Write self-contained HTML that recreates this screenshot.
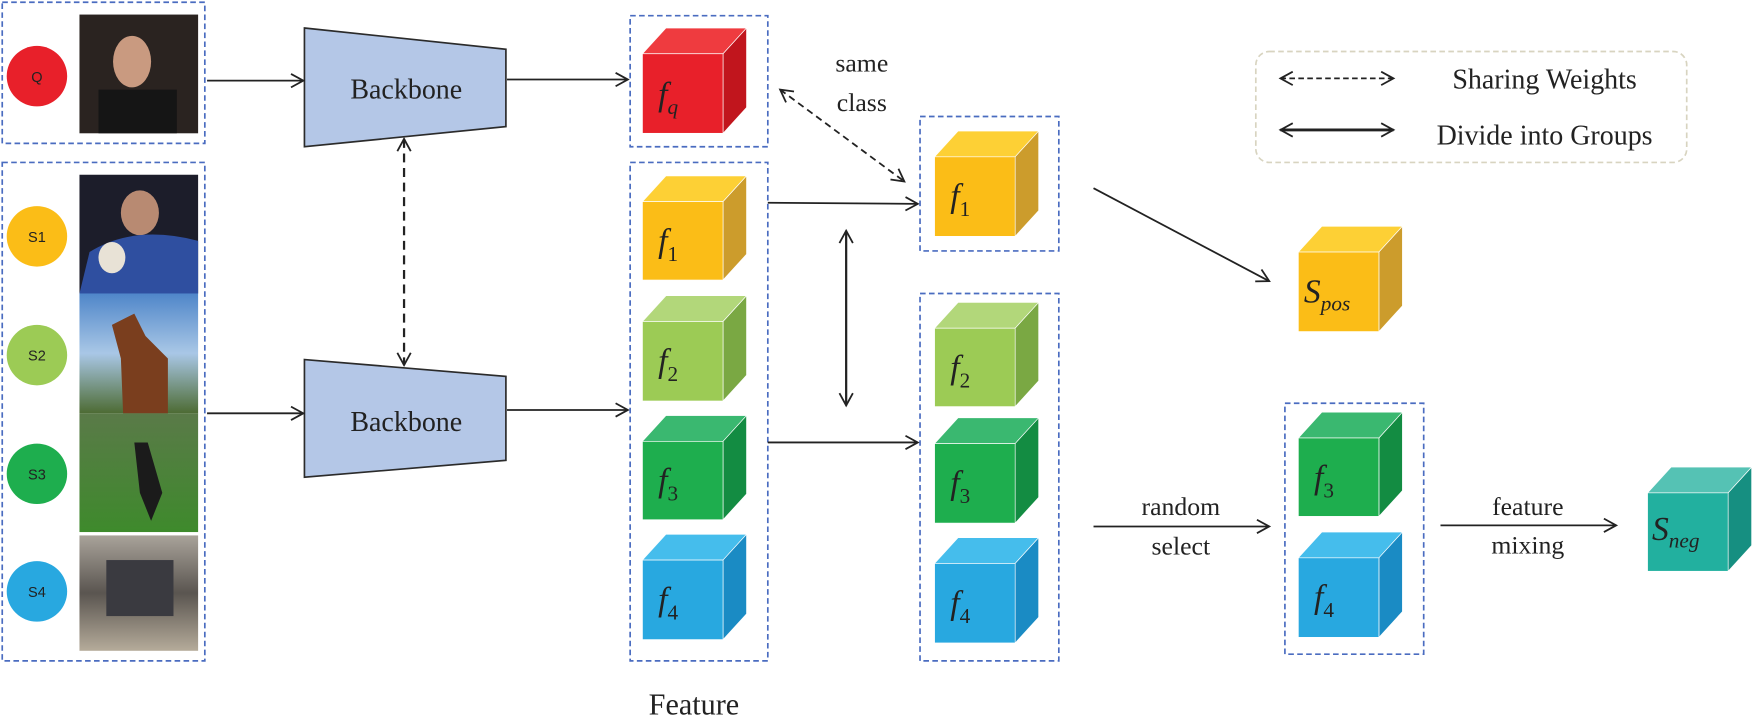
<!DOCTYPE html>
<html><head><meta charset="utf-8"><style>
html,body{margin:0;padding:0;background:#fff;}
svg{display:block;}
text{font-family:"Liberation Serif",serif;}
</style></head><body>
<svg width="1755" height="718" viewBox="0 0 1568 641" preserveAspectRatio="none" xmlns="http://www.w3.org/2000/svg">
<defs>
<marker id="ah" markerWidth="14" markerHeight="14" refX="12" refY="7" orient="auto-start-reverse" markerUnits="userSpaceOnUse">
<path d="M1,1 L12,7 L1,13" fill="none" stroke="#222" stroke-width="1.6"/>
</marker>
<linearGradient id="sky" x1="0" y1="0" x2="0" y2="1"><stop offset="0" stop-color="#4f86c9"/><stop offset="0.5" stop-color="#a9c7e6"/><stop offset="1" stop-color="#4d6b33"/></linearGradient>
<linearGradient id="grn" x1="0" y1="0" x2="0" y2="1"><stop offset="0" stop-color="#5a7a48"/><stop offset="1" stop-color="#3e8a2c"/></linearGradient>
<linearGradient id="car" x1="0" y1="0" x2="0" y2="1"><stop offset="0" stop-color="#a9a39a"/><stop offset="0.5" stop-color="#5a5550"/><stop offset="1" stop-color="#b5ab9a"/></linearGradient>
</defs>
<g fill="none" stroke="#4a6cc0" stroke-width="1.5" stroke-dasharray="5,3">
<rect x="2" y="2" width="181" height="126"/>
<rect x="2" y="145" width="181" height="445"/>
<rect x="563" y="14" width="123" height="117"/>
<rect x="563" y="145" width="123" height="445"/>
<rect x="822" y="104" width="124" height="120"/>
<rect x="822" y="262" width="124" height="328"/>
<rect x="1148" y="360" width="124" height="224"/>
</g>
<g font-size="13" text-anchor="middle">
<circle cx="33" cy="68" r="27" fill="#e8202a"/><text x="33" y="73" fill="#222" style="font-family:'Liberation Sans',sans-serif">Q</text>
<circle cx="33" cy="211" r="27" fill="#fbbd17"/><text x="33" y="216" fill="#222" style="font-family:'Liberation Sans',sans-serif">S1</text>
<circle cx="33" cy="317" r="27" fill="#9ccb55"/><text x="33" y="322" fill="#222" style="font-family:'Liberation Sans',sans-serif">S2</text>
<circle cx="33" cy="423" r="27" fill="#1eae4e"/><text x="33" y="428" fill="#222" style="font-family:'Liberation Sans',sans-serif">S3</text>
<circle cx="33" cy="528" r="27" fill="#28a8e0"/><text x="33" y="533" fill="#222" style="font-family:'Liberation Sans',sans-serif">S4</text>
</g>
<rect x="71" y="13" width="106" height="106" fill="#2a2320"/>
<ellipse cx="118" cy="55" rx="17" ry="23" fill="#c99a80"/>
<rect x="88" y="80" width="70" height="39" fill="#151515"/>
<rect x="71" y="156" width="106" height="106" fill="#1c1d2a"/>
<ellipse cx="125" cy="190" rx="17" ry="20" fill="#b88a72"/>
<path d="M71,262 L80,225 Q120,200 177,215 L177,262Z" fill="#2f4fa0"/>
<ellipse cx="100" cy="230" rx="12" ry="14" fill="#e8e2d6"/>
<rect x="71" y="262" width="106" height="107" fill="url(#sky)"/>
<path d="M100,290 L120,280 L130,300 L150,320 L150,369 L110,369 L108,320Z" fill="#7a3e1e"/>
<rect x="71" y="369" width="106" height="106" fill="url(#grn)"/>
<path d="M120,395 L132,395 L145,440 L135,465 L125,440Z" fill="#1b1b1b"/>
<rect x="71" y="478" width="106" height="103" fill="url(#car)"/>
<rect x="95" y="500" width="60" height="50" fill="#3a3a40"/>
<polygon points="272,25 452,44 452,113 272,131" fill="#b4c7e7" stroke="#2b2b2b" stroke-width="1.5"/>
<polygon points="272,321 452,336 452,411 272,426" fill="#b4c7e7" stroke="#2b2b2b" stroke-width="1.5"/>
<text x="363" y="88" font-size="25" text-anchor="middle" fill="#222">Backbone</text>
<text x="363" y="385" font-size="25" text-anchor="middle" fill="#222">Backbone</text>
<g stroke="#222" stroke-width="1.6" fill="none">
<line x1="185" y1="72" x2="271" y2="72" marker-end="url(#ah)"/>
<line x1="453" y1="71" x2="561" y2="71" marker-end="url(#ah)"/>
<line x1="185" y1="369" x2="271" y2="369" marker-end="url(#ah)"/>
<line x1="453" y1="366" x2="561" y2="366" marker-end="url(#ah)"/>
<line x1="361" y1="124" x2="361" y2="326" stroke-dasharray="8,5" stroke-width="2" marker-start="url(#ah)" marker-end="url(#ah)"/>
<line x1="686" y1="181" x2="820" y2="182" marker-end="url(#ah)"/>
<line x1="686" y1="395" x2="820" y2="395" marker-end="url(#ah)"/>
<line x1="756" y1="206" x2="756" y2="362" stroke-width="2" marker-start="url(#ah)" marker-end="url(#ah)"/>
<line x1="697" y1="80" x2="808" y2="162" stroke-dasharray="6,4" marker-start="url(#ah)" marker-end="url(#ah)"/>
<line x1="977" y1="168" x2="1134" y2="251" marker-end="url(#ah)"/>
<line x1="977" y1="470" x2="1134" y2="470" marker-end="url(#ah)"/>
<line x1="1287" y1="469" x2="1444" y2="469" marker-end="url(#ah)"/>
<line x1="1144" y1="70" x2="1245" y2="70" stroke-dasharray="5,3" marker-start="url(#ah)" marker-end="url(#ah)"/>
<line x1="1144" y1="116" x2="1245" y2="116" stroke-width="2.5" marker-start="url(#ah)" marker-end="url(#ah)"/>
</g>
<rect x="1122" y="46" width="385" height="99" rx="12" fill="none" stroke="#d8d4c0" stroke-width="1.5" stroke-dasharray="5,3"/>
<g font-size="23" fill="#222" text-anchor="middle">
<text x="1380" y="79" font-size="25">Sharing Weights</text>
<text x="1380" y="129" font-size="25">Divide into Groups</text>
<text x="770" y="64">same</text>
<text x="770" y="99">class</text>
<text x="1055" y="460">random</text>
<text x="1055" y="495">select</text>
<text x="1365" y="460">feature</text>
<text x="1365" y="494">mixing</text>
<text x="620" y="638" font-size="27">Feature</text>
</g>
<g stroke="#fff" stroke-width="0.6">
<polygon points="574,48 595,25 667,25 646,48" fill="#ef3b3f"/><polygon points="646,48 667,25 667,96 646,119" fill="#c1151d"/><rect x="574" y="48" width="72" height="71" fill="#e8202a"/>
<polygon points="574,180 595,157 667,157 646,180" fill="#fdd035"/><polygon points="646,180 667,157 667,227 646,250" fill="#cc9c2c"/><rect x="574" y="180" width="72" height="70" fill="#fbbd17"/>
<polygon points="574,287 595,264 667,264 646,287" fill="#b2d77a"/><polygon points="646,287 667,264 667,335 646,358" fill="#7aa843"/><rect x="574" y="287" width="72" height="71" fill="#9ccb55"/>
<polygon points="574,394 595,371 667,371 646,394" fill="#3ab870"/><polygon points="646,394 667,371 667,441 646,464" fill="#138c42"/><rect x="574" y="394" width="72" height="70" fill="#1eae4e"/>
<polygon points="574,500 595,477 667,477 646,500" fill="#45bdec"/><polygon points="646,500 667,477 667,548 646,571" fill="#1a8bc4"/><rect x="574" y="500" width="72" height="71" fill="#28a8e0"/>
<polygon points="835,140 856,117 928,117 907,140" fill="#fdd035"/><polygon points="907,140 928,117 928,188 907,211" fill="#cc9c2c"/><rect x="835" y="140" width="72" height="71" fill="#fbbd17"/>
<polygon points="835,293 856,270 928,270 907,293" fill="#b2d77a"/><polygon points="907,293 928,270 928,340 907,363" fill="#7aa843"/><rect x="835" y="293" width="72" height="70" fill="#9ccb55"/>
<polygon points="835,396 856,373 928,373 907,396" fill="#3ab870"/><polygon points="907,396 928,373 928,444 907,467" fill="#138c42"/><rect x="835" y="396" width="72" height="71" fill="#1eae4e"/>
<polygon points="835,503 856,480 928,480 907,503" fill="#45bdec"/><polygon points="907,503 928,480 928,551 907,574" fill="#1a8bc4"/><rect x="835" y="503" width="72" height="71" fill="#28a8e0"/>
<polygon points="1160,225 1181,202 1253,202 1232,225" fill="#fdd035"/><polygon points="1232,225 1253,202 1253,273 1232,296" fill="#cc9c2c"/><rect x="1160" y="225" width="72" height="71" fill="#fbbd17"/>
<polygon points="1160,391 1181,368 1253,368 1232,391" fill="#3ab870"/><polygon points="1232,391 1253,368 1253,438 1232,461" fill="#138c42"/><rect x="1160" y="391" width="72" height="70" fill="#1eae4e"/>
<polygon points="1160,498 1181,475 1253,475 1232,498" fill="#45bdec"/><polygon points="1232,498 1253,475 1253,546 1232,569" fill="#1a8bc4"/><rect x="1160" y="498" width="72" height="71" fill="#28a8e0"/>
<polygon points="1472,440 1493,417 1565,417 1544,440" fill="#55c2b4"/><polygon points="1544,440 1565,417 1565,487 1544,510" fill="#168f81"/><rect x="1472" y="440" width="72" height="70" fill="#22b09f"/>
</g>
<g font-size="30" font-style="italic" fill="#222">
<text x="588" y="94">f<tspan font-size="19" dy="8">q</tspan></text>
<text x="588" y="225">f<tspan font-size="19" dy="8" font-style="normal">1</tspan></text>
<text x="588" y="332">f<tspan font-size="19" dy="8" font-style="normal">2</tspan></text>
<text x="588" y="439">f<tspan font-size="19" dy="8" font-style="normal">3</tspan></text>
<text x="588" y="545">f<tspan font-size="19" dy="8" font-style="normal">4</tspan></text>
<text x="849" y="185">f<tspan font-size="19" dy="8" font-style="normal">1</tspan></text>
<text x="849" y="338">f<tspan font-size="19" dy="8" font-style="normal">2</tspan></text>
<text x="849" y="441">f<tspan font-size="19" dy="8" font-style="normal">3</tspan></text>
<text x="849" y="548">f<tspan font-size="19" dy="8" font-style="normal">4</tspan></text>
<text x="1174" y="436">f<tspan font-size="19" dy="8" font-style="normal">3</tspan></text>
<text x="1174" y="543">f<tspan font-size="19" dy="8" font-style="normal">4</tspan></text>
<text x="1165" y="270">S<tspan font-size="19" dy="7">pos</tspan></text>
<text x="1476" y="482">S<tspan font-size="19" dy="7">neg</tspan></text>
</g>
</svg>
</body></html>
